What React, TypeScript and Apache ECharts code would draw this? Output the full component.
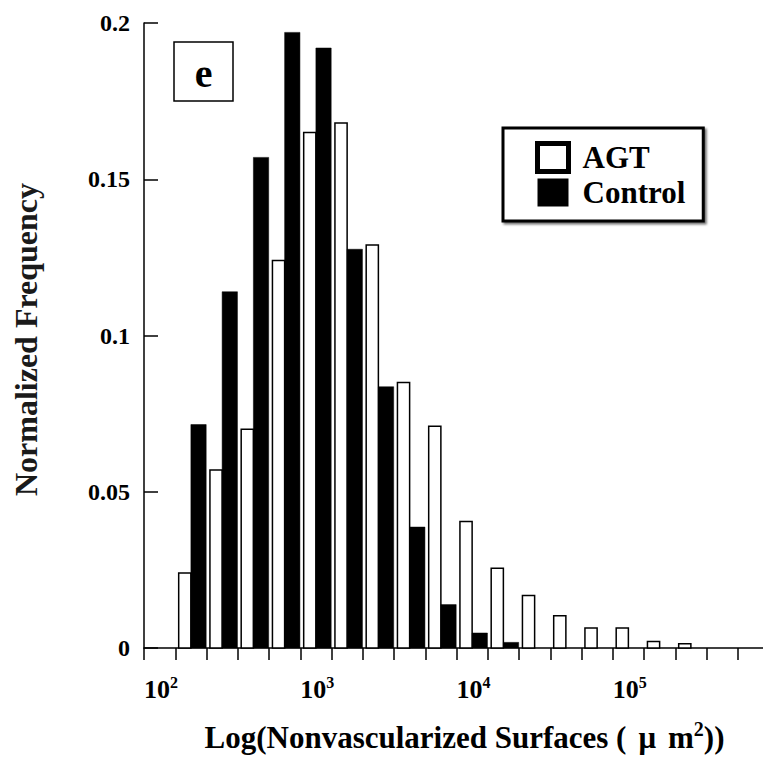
import React, { useEffect, useRef } from 'react';
import * as echarts from 'echarts';

// Lower edge of each histogram bin, as log10 of the surface (um^2)
const binStarts = [2.2, 2.4, 2.6, 2.8, 3.0, 3.2, 3.4, 3.6, 3.8, 4.0, 4.2, 4.4, 4.6, 4.8, 5.0, 5.2, 5.4];
// Normalized frequency, AGT (open bars)
const agtValues = [0.024, 0.057, 0.07, 0.124, 0.165, 0.168, 0.129, 0.085, 0.071, 0.0405, 0.0255, 0.0168, 0.0103, 0.0064, 0.0064, 0.0021, 0.0014];
// Normalized frequency, Control (filled bars)
const controlValues = [0.0715, 0.114, 0.157, 0.197, 0.192, 0.1276, 0.0836, 0.0387, 0.0139, 0.0048, 0.0018];
// Decades that carry a tick label (10^n)
const xDecadeExponents = [2, 3, 4, 5];
const yTickValues = [0, 0.05, 0.1, 0.15, 0.2];

const FONT = '"Liberation Serif", "Times New Roman", serif';

const AGT_OFF = [0.022, 0.1];
const CTRL_OFF = [0.1, 0.198];

function makeRender(o0: number, o1: number, style: any) {
  return (params: any, api: any) => {
    const x = api.value(0);
    const v = api.value(1);
    if (!(v > 0)) return null;
    const a = api.coord([x + o0, 0]);
    const b = api.coord([x + o1, v]);
    return {
      type: 'rect',
      shape: { x: a[0], y: b[1], width: b[0] - a[0], height: a[1] - b[1] },
      style,
    };
  };
}

export default function App() {
  const ref = useRef<HTMLDivElement>(null);
  useEffect(() => {
    if (!ref.current) return;
    const chart = echarts.init(ref.current, undefined, { renderer: 'svg' });
    const option: any = {
      animation: false,
      backgroundColor: '#fff',
      grid: { left: 144, right: 0, top: 23, bottom: 110 },
      xAxis: {
        type: 'value',
        min: 2,
        max: 6,
        interval: 0.2,
        name: '{t|Log(Nonvascularized Surfaces (}{m|μ}{t|m}{s|2}{t|))}',
        nameLocation: 'middle',
        nameGap: 71,
        nameTextStyle: {
          padding: [0, 0, 0, 16],
          rich: {
            t: { fontFamily: FONT, fontWeight: 'bold', fontSize: 31, lineHeight: 36, color: '#000' },
            m: { fontFamily: FONT, fontWeight: 'bold', fontSize: 31, lineHeight: 36, color: '#000', padding: [0, 12, 0, 12] },
            s: { fontFamily: FONT, fontWeight: 'bold', fontSize: 20, lineHeight: 20, color: '#000', verticalAlign: 'top' },
          },
        },
        splitLine: { show: false },
        axisLine: { lineStyle: { color: '#000', width: 1.5 } },
        axisTick: { inside: false, length: 12, lineStyle: { color: '#000', width: 1.5 } },
        axisLabel: {
          margin: 26,
          align: 'left',
          formatter: (v: number) => {
            const r = Math.round(v);
            if (Math.abs(v - r) > 1e-6 || xDecadeExponents.indexOf(r) < 0) return '';
            return '{a|10}{b|' + r + '}';
          },
          rich: {
            a: { fontFamily: FONT, fontWeight: 'bold', fontSize: 26, lineHeight: 30, color: '#000' },
            b: { fontFamily: FONT, fontWeight: 'bold', fontSize: 16, lineHeight: 16, color: '#000', verticalAlign: 'top' },
          },
        },
      },
      yAxis: {
        type: 'value',
        min: 0,
        max: 0.2,
        interval: 0.05,
        name: 'Normalized Frequency',
        nameLocation: 'middle',
        nameGap: 102,
        nameTextStyle: {
          fontFamily: FONT, fontWeight: 'bold', fontSize: 32, lineHeight: 32, color: '#1a1a1a',
          padding: [0, 8, 0, 0],
        },
        splitLine: { show: false },
        axisLine: { show: true, lineStyle: { color: '#000', width: 1.5 } },
        axisTick: { show: true, inside: true, length: 14, lineStyle: { color: '#000', width: 1.5 } },
        axisLabel: {
          margin: 14,
          fontFamily: FONT, fontWeight: 'bold', fontSize: 24, color: '#000',
          formatter: (v: number) => {
            const t = yTickValues.find((y) => Math.abs(y - v) < 1e-9);
            return t === undefined ? '' : String(t);
          },
        },
      },
      legend: {
        orient: 'vertical',
        left: 503,
        top: 128,
        padding: [13, 18, 13, 32],
        itemWidth: 31,
        itemHeight: 28,
        itemGap: 3,
        selectedMode: false,
        backgroundColor: '#fff',
        borderColor: '#000',
        borderWidth: 3,
        shadowColor: 'rgba(0,0,0,0.55)',
        shadowBlur: 2,
        shadowOffsetX: 2,
        shadowOffsetY: 2,
        textStyle: { fontFamily: FONT, fontWeight: 'bold', fontSize: 31, lineHeight: 30, color: '#000', padding: [0, 0, 0, 9] },
        data: [
          { name: 'AGT', icon: 'rect', itemStyle: { color: '#fff', borderColor: '#000', borderWidth: 5 } },
          { name: 'Control', icon: 'rect', itemStyle: { color: '#000', borderWidth: 0 } },
        ],
      },
      graphic: [
        { type: 'rect', shape: { x: 174, y: 42, width: 59, height: 59 }, style: { fill: '#fff', stroke: '#000', lineWidth: 1.5 }, z: 10 },
        { type: 'text', x: 203.5, y: 73, z: 11, style: { text: 'e', font: 'bold 40px ' + FONT, fill: '#000', align: 'center', verticalAlign: 'middle' } },
      ],
      series: [
        {
          name: 'AGT',
          type: 'custom',
          itemStyle: { color: '#fff', borderColor: '#000' },
          encode: { x: 0, y: 1 },
          data: binStarts.map((x, i) => [x, agtValues[i]]),
          renderItem: makeRender(AGT_OFF[0], AGT_OFF[1], { fill: '#fff', stroke: '#000', lineWidth: 1.5 }),
        },
        {
          name: 'Control',
          type: 'custom',
          itemStyle: { color: '#000' },
          encode: { x: 0, y: 1 },
          data: controlValues.map((v, i) => [binStarts[i], v]),
          renderItem: makeRender(CTRL_OFF[0], CTRL_OFF[1], { fill: '#000', stroke: '#000', lineWidth: 0.5 }),
        },
      ],
    };
    chart.setOption(option);
    return () => chart.dispose();
  }, []);
  return (
    <div style={{ position: 'fixed', left: 0, top: 0, width: 763, height: 758, overflow: 'hidden', background: '#fff' }}>
      <div ref={ref} style={{ width: 772, height: 758 }} />
    </div>
  );
}
